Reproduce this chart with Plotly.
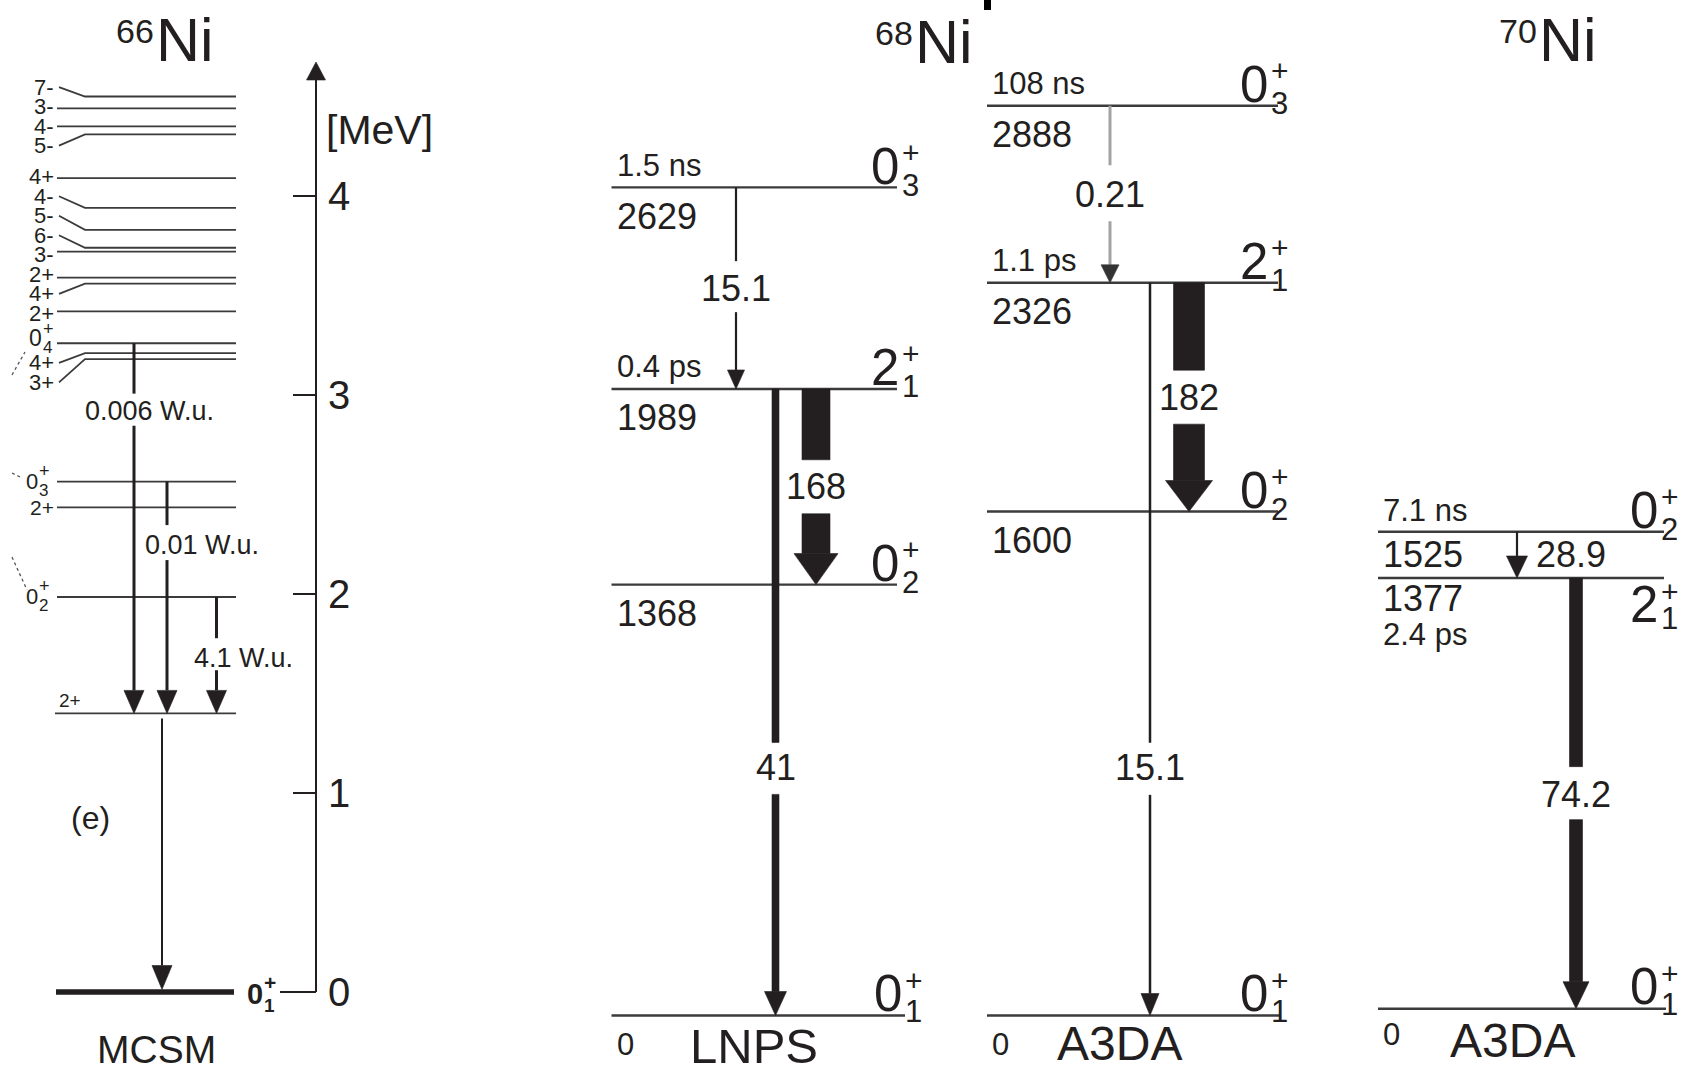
import plotly.graph_objects as go

W, H = 1688, 1071
FONT = "Liberation Sans, Arial, Helvetica, sans-serif"
NARROW = "Liberation Sans Narrow, Arial Narrow, Liberation Sans, Arial, sans-serif"
INK = "#231f20"
LVL = "#3b3b3b"
GREY = "#a3a3a3"

# ------------------------------------------------------------------ data
# 66Ni, MCSM calculation (MeV)
mcsm_hi_spin = ["7-", "3-", "4-", "5-", "4+", "4-", "5-", "6-", "3-", "2+", "4+", "2+", "0+4", "4+", "3+"]
mcsm_hi_E = [4.50, 4.44, 4.35, 4.31, 4.09, 3.94, 3.83, 3.74, 3.72, 3.59, 3.56, 3.42, 3.26, 3.21, 3.18]
mcsm_lo_spin = ["0+3", "2+", "0+2", "2+", "0+1"]
mcsm_lo_E = [2.565, 2.435, 1.985, 1.40, 0.0]
mcsm_tr_from = [3.26, 2.565, 1.985, 1.40]
mcsm_tr_to = [1.40, 1.40, 1.40, 0.0]
mcsm_tr_label = ["0.006 W.u.", "0.01 W.u.", "4.1 W.u.", ""]
mev_ticks = [0, 1, 2, 3, 4]

# 68Ni, LNPS (keV)
lnps_E = [2629, 1989, 1368, 0]
lnps_J = ["0", "2", "0", "0"]
lnps_idx = ["3", "1", "2", "1"]
lnps_life = ["1.5 ns", "0.4 ps", "", ""]
lnps_tr_from = [2629, 1989, 1989]
lnps_tr_to = [1989, 1368, 0]
lnps_tr_BE2 = ["15.1", "168", "41"]

# 68Ni, A3DA (keV)
a68_E = [2888, 2326, 1600, 0]
a68_J = ["0", "2", "0", "0"]
a68_idx = ["3", "1", "2", "1"]
a68_life = ["108 ns", "1.1 ps", "", ""]
a68_tr_from = [2888, 2326, 2326]
a68_tr_to = [2326, 1600, 0]
a68_tr_BE2 = ["0.21", "182", "15.1"]

# 70Ni, A3DA (keV)
a70_E = [1525, 1377, 0]
a70_J = ["0", "2", "0"]
a70_idx = ["2", "1", "1"]
a70_life = ["7.1 ns", "2.4 ps", ""]
a70_tr_from = [1525, 1377]
a70_tr_to = [1377, 0]
a70_tr_BE2 = ["28.9", "74.2"]

# ------------------------------------------------------------------ scales
SCALE = {"y": 199.0, "y2": 0.315, "y3": 0.3128}      # px per unit
ZERO = {"y": 992.0, "y2": 1015.5, "y3": 1008.7}      # px from top of E = 0


def yrange(ax):
    lo = -(H - ZERO[ax]) / SCALE[ax]
    return [lo, lo + H / SCALE[ax]]


def d(px, ax):
    return px / SCALE[ax]


def to_px(E, ax):
    return ZERO[ax] - E * SCALE[ax]


def from_px(p, ax):
    return (ZERO[ax] - p) / SCALE[ax]


def P(px):
    return 1 - px / H


traces, anns, shapes = [], [], []


def seg(xs, ys, ax, width, color=LVL, dash=None):
    traces.append(go.Scatter(x=list(xs), y=list(ys), xaxis="x", yaxis=ax, mode="lines",
                             line=dict(color=color, width=width, dash=dash),
                             hoverinfo="skip", showlegend=False))


def poly(xs, ys, ax, color=INK):
    traces.append(go.Scatter(x=list(xs) + [xs[0]], y=list(ys) + [ys[0]], xaxis="x", yaxis=ax,
                             mode="lines", fill="toself", fillcolor=color,
                             line=dict(color=color, width=0.6), hoverinfo="skip", showlegend=False))


def txt(x, y, s, size, ax="paper", xa="center", ya="middle", dy=0, family=FONT, color=INK):
    anns.append(dict(x=x, y=y, xref="x", yref=ax, text=s, showarrow=False, xanchor=xa,
                     yanchor=ya, yshift=dy, font=dict(family=family, size=size, color=color)))


def stacked(xd, E, ax, J, sub, sizes, offs, bold=False, gap=1):
    """spin label: digit ending at xd, with '+' above and index below just after it"""
    b = (lambda s: "<b>" + s + "</b>") if bold else (lambda s: s)
    txt(xd + 3, E, b(J), sizes[0], ax, xa="right", dy=offs[0])
    txt(xd + gap, E, b("+"), sizes[1], ax, xa="left", dy=offs[1])
    txt(xd + gap, E, b(sub), sizes[2], ax, xa="left", dy=offs[2])


def head(x, E_tip, ax, w, h, color=INK):
    poly([x - w / 2, x + w / 2, x], [E_tip + d(h, ax), E_tip + d(h, ax), E_tip], ax, color)


def arrow(x, E1, E2, ax, width, label=None, frac=0.5, gap=(26, 26), hw=18, hh=20,
          color=INK, head_color=INK, top_gap=0, tip_gap=0, lab_size=36, lab_dx=0):
    top = E1 - d(top_gap, ax)
    tip = E2 + d(tip_gap, ax)
    base = tip + d(hh, ax)
    if label:
        Em = E1 - frac * (E1 - E2)
        seg([x, x], [top, Em + d(gap[0], ax)], ax, width, color)
        seg([x, x], [Em - d(gap[1], ax), base], ax, width, color)
        txt(x + lab_dx, Em, label, lab_size, ax)
    else:
        seg([x, x], [top, base], ax, width, color)
    head(x, tip, ax, hw, hh, head_color)


def bar_arrow(x, E1, E2, ax, bw, hw, hh, label, frac=0.5, gap=(27, 27), lab_size=36):
    Em = E1 - frac * (E1 - E2)
    base = E2 + d(hh, ax)
    up, dn = Em + d(gap[0], ax), Em - d(gap[1], ax)
    poly([x - bw / 2, x + bw / 2, x + bw / 2, x - bw / 2], [E1, E1, up, up], ax)
    poly([x - bw / 2, x + bw / 2, x + bw / 2, x - bw / 2], [dn, dn, base, base], ax)
    head(x, E2, ax, hw, hh)
    txt(x, Em, label, lab_size, ax)


def spread(t, h):
    """push overlapping labels apart (px from top), keeping cluster centres"""
    def place(c):
        offs = [0.0]
        for k in range(1, len(c)):
            offs.append(offs[-1] + (h[c[k - 1]] + h[c[k]]) / 2)
        start = sum(t[j] - o for j, o in zip(c, offs)) / len(c)
        return [start + o for o in offs]
    clusters = []
    for i in range(len(t)):
        clusters.append([i])
        while len(clusters) > 1:
            a, b = clusters[-2], clusters[-1]
            pa, pb = place(a), place(b)
            if pb[0] - pa[-1] < (h[a[-1]] + h[b[0]]) / 2:
                clusters[-2:] = [a + b]
            else:
                break
    out = []
    for c in clusters:
        out += place(c)
    return out


# ------------------------------------------------------------------ 66Ni (MCSM)
ax = "y"
X_L, X_BEND, X_R = 57, 85, 236
lvl_px = [to_px(e, ax) for e in mcsm_hi_E]
lab_px = spread(lvl_px, [30 if s.startswith("0+") else 19.5 for s in mcsm_hi_spin])
for s, e, vp, lp in zip(mcsm_hi_spin, mcsm_hi_E, lvl_px, lab_px):
    lab_E = from_px(lp, ax)
    if abs(lp - vp) < 8:
        seg([X_L, X_R], [e, e], ax, 1.8)
    else:
        seg([59, X_BEND, X_R], [lab_E, e, e], ax, 1.8)
    if s.startswith("0+"):
        stacked(41, lab_E, ax, "0", s[2], (23, 18, 17), (0, 9, -9), gap=0)
    else:
        txt(56, lab_E, s, 22, ax, xa="right")

for s, e in zip(mcsm_lo_spin, mcsm_lo_E):
    if e == 0:
        seg([56, 234], [e, e], ax, 5.5, INK)
        stacked(262, e, ax, "0", s[2], (29, 21, 19), (-2, 10, -13), bold=True, gap=0)
    elif s.startswith("0+"):
        seg([X_L, X_R], [e, e], ax, 1.8)
        stacked(37, e, ax, "0", s[2], (22, 18, 17), (0, 11, -9), gap=0)
    elif e == mcsm_tr_to[0]:
        seg([55, X_R], [e, e], ax, 1.8)
        txt(57, e, s, 19, ax, xa="left", dy=13)
    else:
        seg([X_L, X_R], [e, e], ax, 1.8)
        txt(56, e, s, 21, ax, xa="right")

mc_x = [134, 167, 216.5, 162]
mc_frac = [0.182, 0.274, 0.526, 0.5]
mc_gap = [(17, 15), (20, 15), (20, 12), (0, 0)]
mc_dx = [15, 35, 26.5, 0]
for x, e1, e2, lab, fr, gp, dx in zip(mc_x, mcsm_tr_from, mcsm_tr_to, mcsm_tr_label, mc_frac, mc_gap, mc_dx):
    if lab:
        arrow(x, e1, e2, ax, 3, lab, fr, gp, hw=20, hh=23, lab_size=27, lab_dx=dx)
    else:
        arrow(x, e1, e2, ax, 2, None, hw=20, hh=24, top_gap=5, tip_gap=2.5)

# energy axis
top_E = mev_ticks[-1] + d(116, ax)
seg([316, 316], [mev_ticks[0], top_E], ax, 2, INK)
poly([306.5, 325.5, 316], [top_E, top_E, top_E + d(18, ax)], ax)
for t in mev_ticks:
    seg([280 if t == 0 else 293, 316], [t, t], ax, 2, INK)
    txt(326, t, str(t), 40, ax, xa="left")
txt(324, P(130), "[MeV]", 41, xa="left")
txt(90, P(818), "(e)", 32)
txt(156, P(1049), "MCSM", 39)

# dotted fragments of connecting lines from the neighbouring panel
for x0, y0, x1, y1 in [(12, 375, 25, 352), (12, 473, 20, 477), (12, 557, 27, 590)]:
    shapes.append(dict(type="line", xref="x", yref="paper", x0=x0, y0=P(y0), x1=x1, y1=P(y1),
                       line=dict(color="#555555", width=1.3, dash="dot")))


# ------------------------------------------------------------------ level-scheme panels
def scheme(E, J, idx, life, ax, xl, xr, xg, xt, xd, e_dy, l_dy, spin_offs, xd_gs=None):
    for k, (e, j, i, lf) in enumerate(zip(E, J, idx, life)):
        right = xg if e == 0 else xr
        seg([xl, right], [e, e], ax, 2.4)
        txt(xt, e, str(e), 31 if e == 0 else 36, ax, xa="left", dy=e_dy[k])
        if lf:
            txt(xt, e, lf, 31, ax, xa="left", dy=l_dy[k], family=NARROW)
        xdd = xd_gs if (e == 0 and xd_gs) else xd
        stacked(xdd, e, ax, j, i, (51, 30, 31), spin_offs[k], gap=2)


UP = (21, 35, 2)
# 68Ni LNPS
ax = "y2"
scheme(lnps_E, lnps_J, lnps_idx, lnps_life, ax, 611.5, 897, 905, 615, 898,
       [-29, -29, -29, -29], [22, 22, 0, 0], [UP, UP, UP, (22, 35, 4)], xd_gs=901)
arrow(736, lnps_tr_from[0], lnps_tr_to[0], ax, 2.2, lnps_tr_BE2[0], 0.5, (27, 24), hw=17, hh=19)
bar_arrow(816, lnps_tr_from[1], lnps_tr_to[1], ax, 28, 44, 31, lnps_tr_BE2[1])
bar_arrow(775.5, lnps_tr_from[2], lnps_tr_to[2], ax, 7, 22, 24, lnps_tr_BE2[2], frac=0.604, gap=(25, 27))
txt(753.5, P(1046), "LNPS", 49)

# 68Ni A3DA
scheme(a68_E, a68_J, a68_idx, a68_life, ax, 987, 1278, 1281, 990, 1267,
       [-29, -29, -29, -29], [22, 22, 0, 0], [UP, UP, UP, (22, 35, 4)])
arrow(1110, a68_tr_from[0], a68_tr_to[0], ax, 3, a68_tr_BE2[0], 0.5, (29, 27), hw=18, hh=18,
      color=GREY, head_color="#333333")
bar_arrow(1189, a68_tr_from[1], a68_tr_to[1], ax, 31, 47, 31, a68_tr_BE2[1])
arrow(1150, a68_tr_from[2], a68_tr_to[2], ax, 2.5, a68_tr_BE2[2], 0.662, (25, 27), hw=18, hh=22)
txt(1119.5, P(1043), "A3DA", 48)

# 70Ni A3DA
ax = "y3"
scheme(a70_E, a70_J, a70_idx, a70_life, ax, 1378, 1664, 1666, 1381, 1657,
       [-22.5, -20.5, -26], [21.5, -57, 0], [UP, (-27, -14, -41), (22, 35, 4)])
arrow(1517, a70_tr_from[0], a70_tr_to[0], ax, 2.2, None, hw=21, hh=22)
txt(1534, (a70_tr_from[0] + a70_tr_to[0]) / 2, a70_tr_BE2[0], 36, ax, xa="left")
bar_arrow(1576, a70_tr_from[1], a70_tr_to[1], ax, 13, 26, 27, a70_tr_BE2[1], frac=0.503, gap=(28, 25))
txt(1512, P(1040), "A3DA", 48)

# ------------------------------------------------------------------ titles
for xs, mass, yc in [(156, "66", 40), (915, "68", 42), (1539, "70", 40)]:
    txt(xs, P(yc - 9), mass, 34, xa="right")
    txt(xs - 2, P(yc), "Ni", 61, xa="left")
shapes.append(dict(type="rect", xref="x", yref="paper", x0=984, x1=991, y0=P(10), y1=P(0),
                   fillcolor="black", line=dict(width=0)))

fig = go.Figure(traces)
fig.update_layout(
    width=W, height=H, margin=dict(l=0, r=0, t=0, b=0),
    paper_bgcolor="white", plot_bgcolor="white", showlegend=False,
    xaxis=dict(range=[0, W], visible=False, fixedrange=True),
    yaxis=dict(range=yrange("y"), visible=False, fixedrange=True),
    yaxis2=dict(range=yrange("y2"), visible=False, overlaying="y", fixedrange=True),
    yaxis3=dict(range=yrange("y3"), visible=False, overlaying="y", fixedrange=True),
    annotations=anns, shapes=shapes,
)
fig.write_html("out.html", config={"displayModeBar": False})
